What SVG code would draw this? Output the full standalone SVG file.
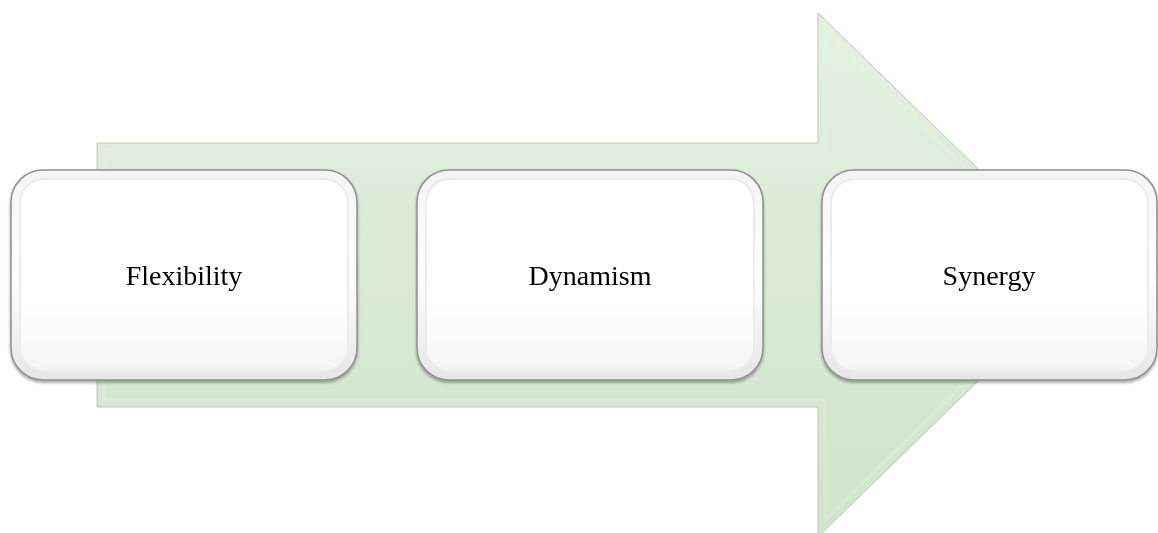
<svg xmlns="http://www.w3.org/2000/svg" width="1158" height="533" viewBox="0 0 1158 533">
  <defs>
    <linearGradient id="arrowFill" x1="0" y1="0" x2="0" y2="1">
      <stop offset="0" stop-color="#e4f1e1"/>
      <stop offset="1" stop-color="#d0e3cc"/>
    </linearGradient>
    <linearGradient id="boxFill" x1="0" y1="0" x2="0" y2="1">
      <stop offset="0" stop-color="#f4f4f4"/>
      <stop offset="0.5" stop-color="#ffffff"/>
      <stop offset="1" stop-color="#e6e6e6"/>
    </linearGradient>
    <linearGradient id="innerFill" x1="0" y1="0" x2="0" y2="1">
      <stop offset="0" stop-color="#ffffff"/>
      <stop offset="0.65" stop-color="#ffffff"/>
      <stop offset="1" stop-color="#f5f5f5"/>
    </linearGradient>
    <filter id="shadow" x="-5%" y="-5%" width="110%" height="115%">
      <feGaussianBlur in="SourceAlpha" stdDeviation="1.5"/>
      <feOffset dx="0" dy="2" result="b"/>
      <feComponentTransfer><feFuncA type="linear" slope="0.35"/></feComponentTransfer>
      <feMerge><feMergeNode/><feMergeNode in="SourceGraphic"/></feMerge>
    </filter>
    <filter id="soft" x="-5%" y="-5%" width="110%" height="110%">
      <feGaussianBlur stdDeviation="1.2"/>
    </filter>
  </defs>
  <style>
    .outer { fill: url(#boxFill); stroke: #8f8f8f; stroke-width: 1.5; }
    .inner { fill: url(#innerFill); stroke: #ececec; stroke-width: 2; }
    .label { font-family: "Liberation Serif", "Times New Roman", serif; font-size: 28px; fill: #000000; text-anchor: middle; }
  </style>

  <g id="connectors">
    <path d="M97,143 L818,143 L818,13 L1087,275 L818,537 L818,407 L97,407 Z" fill="url(#arrowFill)" stroke="#b9c9b6" stroke-width="1"/>
    <path d="M104,150 L825,150 L825,30 L1075,275 L825,520 L825,400 L104,400 Z" fill="none" stroke="#e9f3e7" stroke-width="2" opacity="0.5" filter="url(#soft)"/>
  </g>

  <g id="node-flexibility" filter="url(#shadow)">
    <rect class="outer" x="11" y="170" width="346" height="210" rx="32" ry="32"/>
    <rect class="inner" x="20" y="179" width="328" height="192" rx="24" ry="24"/>
    <text class="label" x="184" y="285">Flexibility</text>
  </g>

  <g id="node-dynamism" filter="url(#shadow)">
    <rect class="outer" x="417" y="170" width="346" height="210" rx="32" ry="32"/>
    <rect class="inner" x="426" y="179" width="328" height="192" rx="24" ry="24"/>
    <text class="label" x="590" y="285">Dynamism</text>
  </g>

  <g id="node-synergy" filter="url(#shadow)">
    <rect class="outer" x="822" y="170" width="335" height="210" rx="32" ry="32"/>
    <rect class="inner" x="831" y="179" width="317" height="192" rx="24" ry="24"/>
    <text class="label" x="989" y="285">Synergy</text>
  </g>
</svg>
